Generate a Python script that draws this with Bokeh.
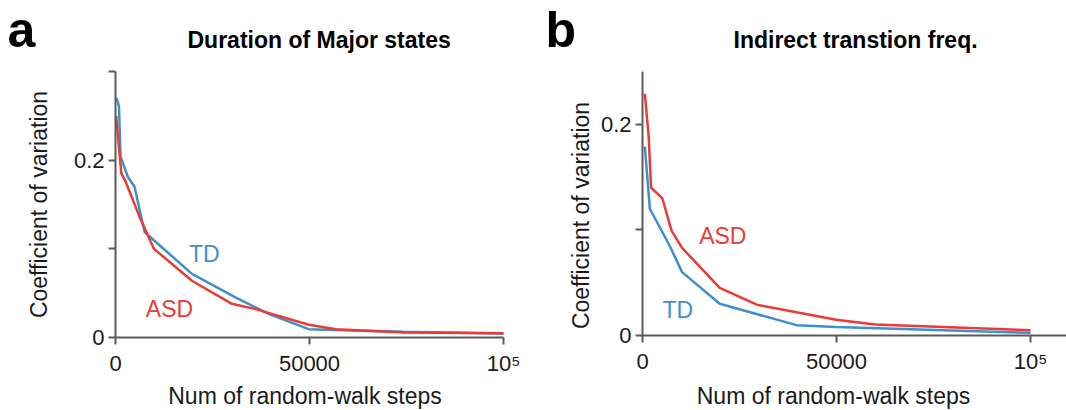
import math
from bokeh.plotting import figure
from bokeh.layouts import row
from bokeh.models import Label, FixedTicker
from bokeh.core.properties import value
from bokeh.embed import file_html
from bokeh.resources import INLINE

# ---- data ----
steps_td_a = [170, 600, 900, 1300, 3200, 4900, 7500, 19700, 30900, 39600, 49800, 58600, 74200, 100000]
cv_td_a = [0.270, 0.266, 0.260, 0.204, 0.181, 0.170, 0.119, 0.0717, 0.0453, 0.0264, 0.0094, 0.0083, 0.0064, 0.0045]
steps_asd_a = [170, 1500, 2500, 6200, 9900, 19700, 30000, 36100, 49800, 56900, 74200, 100000]
cv_asd_a = [0.250, 0.185, 0.177, 0.136, 0.100, 0.064, 0.038, 0.032, 0.0143, 0.0094, 0.0057, 0.0049]

steps_asd_b = [600, 1600, 2200, 5100, 7500, 10200, 19900, 29600, 39700, 49900, 60000, 100000]
cv_asd_b = [0.229, 0.188, 0.140, 0.130, 0.099, 0.083, 0.045, 0.029, 0.022, 0.015, 0.0105, 0.005]
steps_td_b = [600, 1900, 7000, 10200, 19900, 39700, 49900, 100000]
cv_td_b = [0.179, 0.120, 0.085, 0.060, 0.030, 0.0098, 0.008, 0.0025]

x_ticks = [0, 50000, 100000]
x_tick_labels = {0: "0", 50000: "50000", 100000: "10\u2075"}
y_ticks_a = [0, 0.1, 0.2, 0.3]
y_ticks_b = [0, 0.1, 0.2]
y_tick_labels = {0: "0", 0.1: "", 0.2: "0.2", 0.3: ""}

titles = ["Duration of Major states", "Indirect transtion freq."]
panel_letters = ["a", "b"]
xlabel = "Num of random-walk steps"
ylabel = "Coefficient of variation"

RED = "#EC3A35"
BLUE = "#3E90CC"
FONT = "Liberation Sans"
AX = "#5a5a5a"
TXT = "#1a1a1a"
H = 410


def make_panel(width, ax_px, x_per_px, x_axis_end, y0_px, y_per_px, y_axis_end, yticks,
               title, title_px, letter, letter_px, ylab_px, xlab_px):
    # pixel -> data helpers (frame covers the whole canvas)
    def dx(px):
        return (px - ax_px) * x_per_px

    def dy(py):
        return (y0_px - py) * y_per_px

    p = figure(width=width, height=H, x_range=(dx(0), dx(width)), y_range=(dy(H), dy(0)),
               output_backend="svg", toolbar_location=None, title=None, min_border=0)
    p.outline_line_color = None
    p.grid.visible = False
    p.background_fill_color = None
    p.border_fill_color = None
    for ax in (p.xaxis[0], p.yaxis[0]):
        ax.fixed_location = 0
        ax.axis_line_color = AX
        ax.axis_line_width = 2
        ax.major_tick_line_color = AX
        ax.major_tick_line_width = 2
        ax.major_tick_out = 7
        ax.major_tick_in = 0
        ax.minor_tick_line_color = None
        ax.major_label_text_font = FONT
        ax.major_label_text_font_size = "22px"
        ax.major_label_text_color = TXT
    p.xaxis.bounds = (0, x_axis_end)
    p.xaxis.ticker = FixedTicker(ticks=x_ticks)
    p.xaxis.major_label_overrides = x_tick_labels
    p.xaxis.major_label_standoff = 6
    p.yaxis.bounds = (0, y_axis_end)
    p.yaxis.ticker = FixedTicker(ticks=yticks)
    p.yaxis.major_label_overrides = y_tick_labels
    p.yaxis.major_label_standoff = 4

    p.add_layout(Label(x=dx(title_px[0]), y=dy(title_px[1]), text=title, text_font=FONT,
                       text_font_size="23px", text_font_style="bold", text_color="black",
                       text_align="left", text_baseline="alphabetic"))
    p.add_layout(Label(x=dx(letter_px[0]), y=dy(letter_px[1]), text=letter, text_font=FONT,
                       text_font_size="50px", text_font_style="bold", text_color="black",
                       text_align="left", text_baseline="alphabetic"))
    p.add_layout(Label(x=dx(ylab_px[0]), y=dy(ylab_px[1]), text=ylabel, text_font=FONT,
                       text_font_size="23px", text_color=TXT, angle=math.pi / 2,
                       text_align="center", text_baseline="middle"))
    p.add_layout(Label(x=dx(xlab_px[0]), y=dy(xlab_px[1]), text=xlabel, text_font=FONT,
                       text_font_size="23px", text_color=TXT,
                       text_align="center", text_baseline="alphabetic"))
    return p


# panel a: y axis at x=115 px, 1e5 at 503 px, y=0 at 337 px, 0.3 at 71 px
pa = make_panel(530, 115, 1e5 / 388, 100000, 337, 0.3 / 266, 0.3, y_ticks_a,
                titles[0], (187, 39), panel_letters[0], (7, 29), (38, 204), (304.5, 395.5))
pa.line(steps_td_a, cv_td_a, line_color=BLUE, line_width=2.5)
pa.line(steps_asd_a, cv_asd_a, line_color=RED, line_width=2.5)
pa.text(x=[22900], y=[0.094], text=["TD"], text_color=BLUE, text_font=value(FONT),
        text_font_size="23px", text_align="center", text_baseline="middle")
pa.text(x=[13900], y=[0.032], text=["ASD"], text_color=RED, text_font=value(FONT),
        text_font_size="23px", text_align="center", text_baseline="middle")

# panel b (figure starts at x=530): y axis at 642 px, 1e5 at 1030 px, y=0 at 335 px, 0.25 at 71 px
pb = make_panel(536, 112, 1e5 / 388, (536 - 112) * 1e5 / 388, 335, 0.25 / 264, 0.25, y_ticks_b,
                titles[1], (203, 39), panel_letters[1], (15, 29.5), (50, 215), (303, 395.5))
pb.line(steps_asd_b, cv_asd_b, line_color=RED, line_width=2.5)
pb.line(steps_td_b, cv_td_b, line_color=BLUE, line_width=2.5)
pb.text(x=[20700], y=[0.094], text=["ASD"], text_color=RED, text_font=value(FONT),
        text_font_size="23px", text_align="center", text_baseline="middle")
pb.text(x=[9100], y=[0.0246], text=["TD"], text_color=BLUE, text_font=value(FONT),
        text_font_size="23px", text_align="center", text_baseline="middle")

layout = row(pa, pb)
open("out.html", "w").write(file_html(layout, INLINE))
